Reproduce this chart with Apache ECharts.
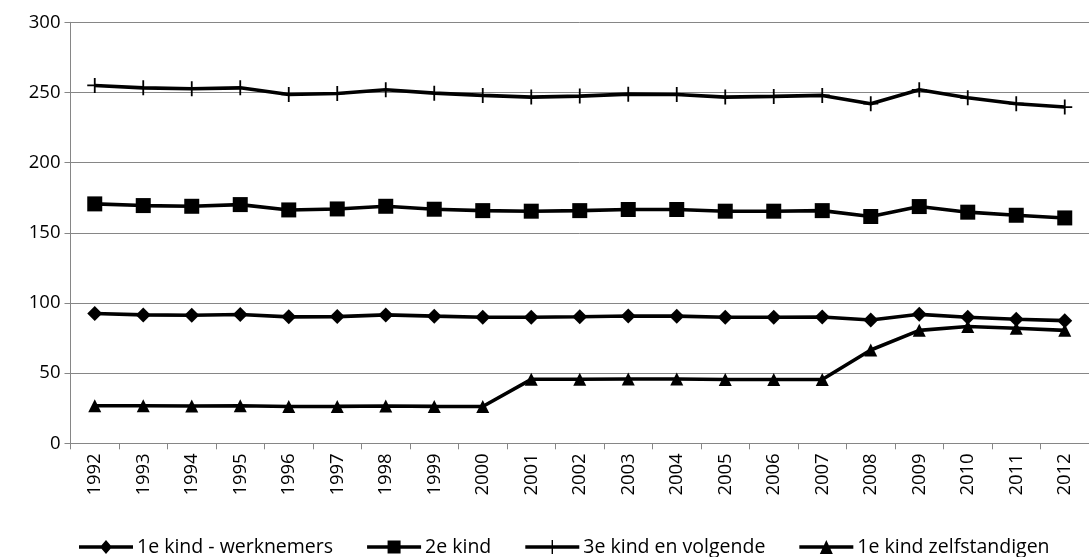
<!DOCTYPE html>
<html>
<head>
<meta charset="utf-8">
<script src="https://cdn.jsdelivr.net/npm/echarts@6/dist/echarts.min.js"></script>
<style>
html,body{margin:0;padding:0;background:#fff;}
#chart{width:1089px;height:557px;}
</style>
</head>
<body>
<div id="chart"></div>
<script>
const years = ['1992','1993','1994','1995','1996','1997','1998','1999','2000','2001','2002','2003','2004','2005','2006','2007','2008','2009','2010','2011','2012'];
const kind1Werknemers = [92.5,91.5,91.3,91.8,90.1,90.3,91.5,90.6,89.8,89.8,90.2,90.7,90.6,89.8,89.8,90.0,87.9,91.9,89.8,88.4,87.4];
const kind2 = [170.6,169.4,168.9,170.1,166.3,167.0,168.9,166.8,165.8,165.4,165.8,166.6,166.6,165.4,165.4,165.8,161.6,168.7,164.7,162.5,160.6];
const kind3 = [255.0,253.3,252.6,253.3,248.6,249.3,251.9,249.5,247.9,246.7,247.4,248.8,248.6,246.7,247.2,247.9,242.0,251.9,246.2,242.0,239.6];
const kind1Zelfstandigen = [26.8,26.8,26.6,26.8,26.2,26.3,26.6,26.3,26.2,45.6,45.6,45.8,45.8,45.5,45.5,45.5,66.5,80.5,83.2,82.0,80.5];
const names = ['1e kind - werknemers','2e kind','3e kind en volgende','1e kind zelfstandigen'];
const yTicks = {min:0, max:300, interval:50};

const plusPath = 'path://M4.4,0h1.2v4.4h4.4v1.2h-4.4v4.4h-1.2v-4.4h-4.4v-1.2h4.4z';
// legend icons: thick line + marker, drawn in a 54 x 14 box
const bar = 'M0,5.3h54v3.4h-54z';
const legendIcons = [
  'path://' + bar + 'M27,0L33,7L27,14L21,7z',
  'path://' + bar + 'M20.5,0.5h13v13h-13zM0,0h0.01v0.01h-0.01zM0,14h0.01v-0.01h-0.01z',
  'path://' + bar + 'M26.3,0h1.4v14h-1.4zM0,0h0.01v0.01h-0.01z',
  'path://' + bar + 'M27,0L33.5,14H20.5z'
];
const font = 'Open Sans';
const chart = echarts.init(document.getElementById('chart'), null, {renderer:'canvas'});
function s(name, data, symbol, size){
  return {
    name, type:'line', data, symbol, symbolSize:size,
    lineStyle:{color:'#000', width:3.6},
    itemStyle:{color:'#000'},
    animation:false
  };
}
chart.setOption({
  animation:false,
  grid:{left:70.5, top:22.3, width:1029, height:421, containLabel:false},
  legend:{
    bottom:-5, left:74,
    itemWidth:54, itemHeight:14, itemGap:34,
    textStyle:{fontFamily:font, fontSize:19.5, color:'#000', padding:[0,0,0,-1]},
    data:names.map((n,i)=>({name:n, icon:legendIcons[i]}))
  },
  xAxis:{
    type:'category', data:years, boundaryGap:true,
    axisLine:{lineStyle:{color:'#868686', width:1}},
    axisTick:{show:true, length:6, lineStyle:{color:'#868686'}},
    axisLabel:{rotate:90, fontFamily:font, fontSize:18.5, color:'#000', margin:10}
  },
  yAxis:{
    type:'value', min:yTicks.min, max:yTicks.max, interval:yTicks.interval,
    axisLine:{show:true, lineStyle:{color:'#868686', width:1}},
    axisTick:{show:true, length:6, lineStyle:{color:'#868686'}},
    splitLine:{lineStyle:{color:'#868686', width:1}},
    axisLabel:{fontFamily:font, fontSize:18.5, color:'#000', margin:10}
  },
  series:[
    s(names[0], kind1Werknemers, 'diamond', 15),
    s(names[1], kind2, 'rect', 15),
    s(names[2], kind3, plusPath, 15),
    s(names[3], kind1Zelfstandigen, 'triangle', 13)
  ]
});
</script>
</body>
</html>
